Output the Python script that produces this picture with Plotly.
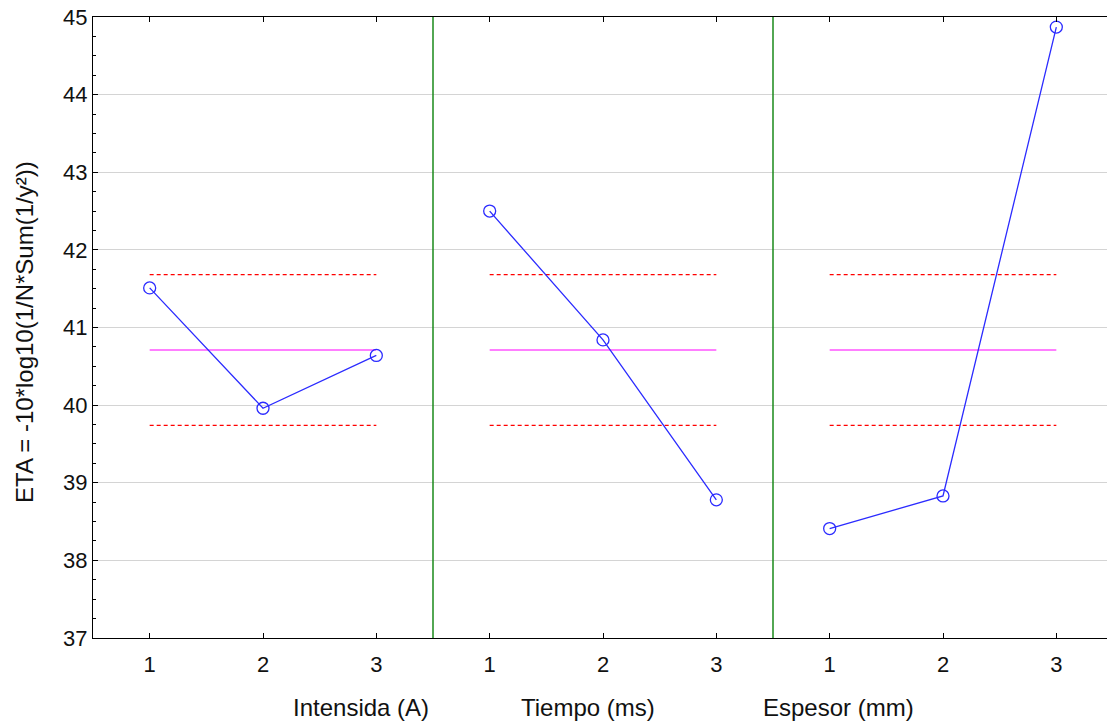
import plotly.graph_objects as go

factors = ["Intensida (A)", "Tiempo (ms)", "Espesor (mm)"]
levels = [1, 2, 3]
intensidad = [41.51, 39.96, 40.64]
tiempo = [42.50, 40.84, 38.78]
espesor = [38.41, 38.83, 44.87]
series = [intensidad, tiempo, espesor]
grand_mean = 40.71
upper_limit = 41.68
lower_limit = 39.74
ytick_vals = [37, 38, 39, 40, 41, 42, 43, 44, 45]

FONT = "Liberation Sans, Arial, sans-serif"
fig = go.Figure()

tickvals = []
ticktext = []
for i, vals in enumerate(series):
    xs = [i * 3 + (lv - 1) for lv in levels]
    tickvals += xs
    ticktext += [str(lv) for lv in levels]
    x_ends = [xs[0], xs[-1]]
    fig.add_trace(go.Scatter(x=x_ends, y=[upper_limit] * 2, mode="lines",
                             line=dict(color="#ff0000", width=1.2, dash="4px,3px"),
                             showlegend=False, hoverinfo="skip"))
    fig.add_trace(go.Scatter(x=x_ends, y=[lower_limit] * 2, mode="lines",
                             line=dict(color="#ff0000", width=1.2, dash="4px,3px"),
                             showlegend=False, hoverinfo="skip"))
    fig.add_trace(go.Scatter(x=x_ends, y=[grand_mean] * 2, mode="lines",
                             line=dict(color="#ff00ff", width=1.2),
                             showlegend=False, hoverinfo="skip"))
    fig.add_trace(go.Scatter(x=xs, y=vals, mode="lines+markers",
                             line=dict(color="#2b2bff", width=1.3),
                             marker=dict(symbol="circle-open", size=12, color="#2b2bff",
                                         line=dict(width=1.3, color="#2b2bff")),
                             showlegend=False, name=factors[i]))

for sep in [2.5, 5.5]:
    fig.add_shape(type="line", xref="x", yref="paper", x0=sep, x1=sep, y0=0, y1=1,
                  line=dict(color="#1a8a1a", width=1.5), layer="above")

# page body has an 8px margin; figure coordinates are offset accordingly
OFF = 8
n = len(series) * 3
label_x_px = [361, 588, 838]
plot_left, plot_right, plot_top, plot_bottom = 93 - OFF, 1113 - OFF, 17 - OFF, 638 - OFF
W, H = 1115 - OFF, 724 - OFF
plot_w = plot_right - plot_left
plot_h = plot_bottom - plot_top
for name, px in zip(factors, label_x_px):
    fig.add_annotation(text=name, xref="paper", yref="paper",
                       x=(px - OFF - plot_left) / plot_w,
                       y=-(707 - OFF - plot_bottom) / plot_h,
                       xanchor="center", yanchor="middle",
                       showarrow=False, font=dict(family=FONT, size=24, color="#111111"))

fig.add_annotation(text="ETA = -10*log10(1/N*Sum(1/y²))", xref="paper", yref="paper",
                   x=(24 - OFF - plot_left) / plot_w, y=0.5 - (332 - 327.5) / plot_h,
                   textangle=-90, xanchor="center", yanchor="middle", showarrow=False,
                   font=dict(family=FONT, size=24, color="#111111"))

fig.update_layout(
    width=W, height=H,
    margin=dict(l=plot_left, r=W - plot_right, t=plot_top, b=H - plot_bottom, autoexpand=False),
    paper_bgcolor="white", plot_bgcolor="white",
    font=dict(family=FONT, size=22, color="#111111"),
    showlegend=False,
    xaxis=dict(range=[-0.5, n - 0.5], tickmode="array", tickvals=tickvals, ticktext=ticktext,
               showgrid=False, zeroline=False, showline=True, linecolor="black", linewidth=1.2,
               mirror="ticks", ticks="inside", ticklen=5, tickcolor="black",
               ticklabelstandoff=6, ticklabeloverflow="allow",
               tickfont=dict(family=FONT, size=22, color="#111111")),
    yaxis=dict(range=[37, 45], tickmode="array", tickvals=ytick_vals,
               showgrid=True, gridcolor="#d4d4d4", gridwidth=1, zeroline=False,
               showline=True, linecolor="black", linewidth=1.2, mirror="ticks",
               ticks="inside", ticklen=5, tickcolor="black", ticklabeloverflow="allow",
               minor=dict(dtick=0.25, ticks="inside", ticklen=3, tickcolor="black", showgrid=False),
               tickfont=dict(family=FONT, size=22, color="#111111")),
)

fig.write_html("out.html")
